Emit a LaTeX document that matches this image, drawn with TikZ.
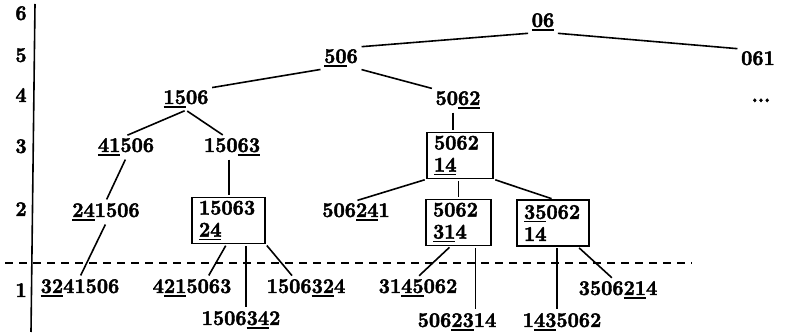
\documentclass[tikz,border=0pt]{standalone}
\usepackage{fontspec}
\setmainfont{lmroman10-regular.otf}[BoldFont=lmroman10-bold.otf, BoldFeatures={FakeBold=2, FakeStretch=0.93}]
\usetikzlibrary{calc}
\newcommand{\fnt}{\fontsize{21}{22}\selectfont\bfseries}
\newsavebox{\uubox}
\newcommand{\uu}[1]{\leavevmode\sbox{\uubox}{#1}\rlap{\rule[-3.6pt]{\wd\uubox}{1.5pt}}\usebox{\uubox}}
\begin{document}
\begin{tikzpicture}[x=1pt,y=-1pt,
  lbl/.style={anchor=base, inner sep=2pt, font=\fnt, text height=14pt, text depth=4pt},
  ax/.style={anchor=base, inner sep=1pt, font=\fnt},
  bx/.style={draw, line width=1.7pt, align=left, inner xsep=7pt, inner ysep=0pt,
             minimum height=46pt, font=\fnt, text width=#1},
  edge/.style={line width=1.6pt, shorten <=1.5pt, shorten >=1.5pt},
  dashline/.style={line width=1.5pt, dash pattern=on 8pt off 6pt}]
\useasboundingbox (0,0) rectangle (785,336);
% axis
\draw[line width=1.6pt] (35,4) -- (31,332);
\node[ax] (l6) at (21,20) {6};
\node[ax] (l5) at (21,62) {5};
\node[ax] (l4) at (21,102) {4};
\node[ax] (l3) at (21,153) {3};
\node[ax] (l2) at (21,216) {2};
\node[ax] (l1) at (21,297) {1};
\draw[dashline] (5,263) -- (692,263);
% nodes
\node[lbl] (n06) at (543,27) {\uu{06}};
\node[lbl] (n061) at (758,65) {061};
\node[lbl] (ndots) at (761,102) {...};
\node[lbl] (n506) at (341,63) {\uu{50}6};
\node[lbl] (n1506) at (186,104) {\uu{15}06};
\node[lbl] (n5062) at (458,105) {50\uu{62}};
\node[lbl] (n41506) at (126,152) {\uu{41}506};
\node[lbl] (n15063) at (232,152) {150\uu{63}};
\node[bx=52pt] (b2) at (460,155.5) {5062\\\uu{14}};
\node[lbl] (n241506) at (106,217) {\uu{24}1506};
\node[bx=59pt] (b1) at (228.5,220.5) {15063\\\uu{24}};
\node[lbl] (n506241) at (356,217) {506\uu{24}1};
\node[bx=51pt] (b3) at (458.5,222.5) {5062\\\uu{31}4};
\node[bx=58pt] (b4) at (553,223) {\uu{35}062\\14};
\node[lbl] (n3241506) at (80,293) {\uu{32}41506};
\node[lbl] (n4215063) at (192,293) {4\uu{21}5063};
\node[lbl] (n1506324) at (306,293) {1506\uu{32}4};
\node[lbl] (n1506342) at (241,325) {1506\uu{34}2};
\node[lbl] (n3145062) at (418,293) {31\uu{45}062};
\node[lbl] (n5062314) at (457,327) {506\uu{23}14};
\node[lbl] (n1435062) at (562,327) {1\uu{43}5062};
\node[lbl] (n3506214) at (618,295) {3506\uu{21}4};
% edges
\draw[edge] (n06.south west) -- (n506.north east);
\draw[edge] (n06.south east) -- (n061.north west);
\draw[edge] (n506.south west) -- (n1506.north east);
\draw[edge] (n506.south east) -- (n5062.north west);
\draw[edge] (n1506.south) -- (n41506.north);
\draw[edge] (n1506.south) -- ([xshift=-8pt]n15063.north);
\draw[edge] (n41506.south) -- (n241506.north);
\draw[edge] (n241506.south) -- (n3241506.north);
\draw[edge] ([xshift=-3pt]n15063.south) -- ([xshift=-3pt]n15063.south |- b1.north);
\draw[edge] ([xshift=-5pt]n5062.south) -- ([xshift=-5pt]n5062.south |- b2.north);
\draw[edge] ([xshift=-2pt]b1.south) -- ([xshift=16pt]n4215063.north);
\draw[edge] ([xshift=17.5pt]b1.south) -- ([xshift=17.5pt]b1.south |- n1506342.north);
\draw[edge] (b1.south east) -- ([xshift=-13pt]n1506324.north);
\draw[edge] (b2.south west) -- (n506241.north);
\draw[edge] (b3.north |- b2.south) -- (b3.north);
\draw[edge] (b2.south east) -- (b4.north);
\draw[edge] ([xshift=-8pt]b3.south) -- (n3145062.north);
\draw[edge] ([xshift=17pt]b3.south) -- ([xshift=17pt]b3.south |- n5062314.north);
\draw[edge] ([xshift=4pt]b4.south) -- ([xshift=4pt]b4.south |- n1435062.north);
\draw[edge] ([xshift=25pt]b4.south) -- ([xshift=-5pt]n3506214.north);
\end{tikzpicture}
\end{document}
